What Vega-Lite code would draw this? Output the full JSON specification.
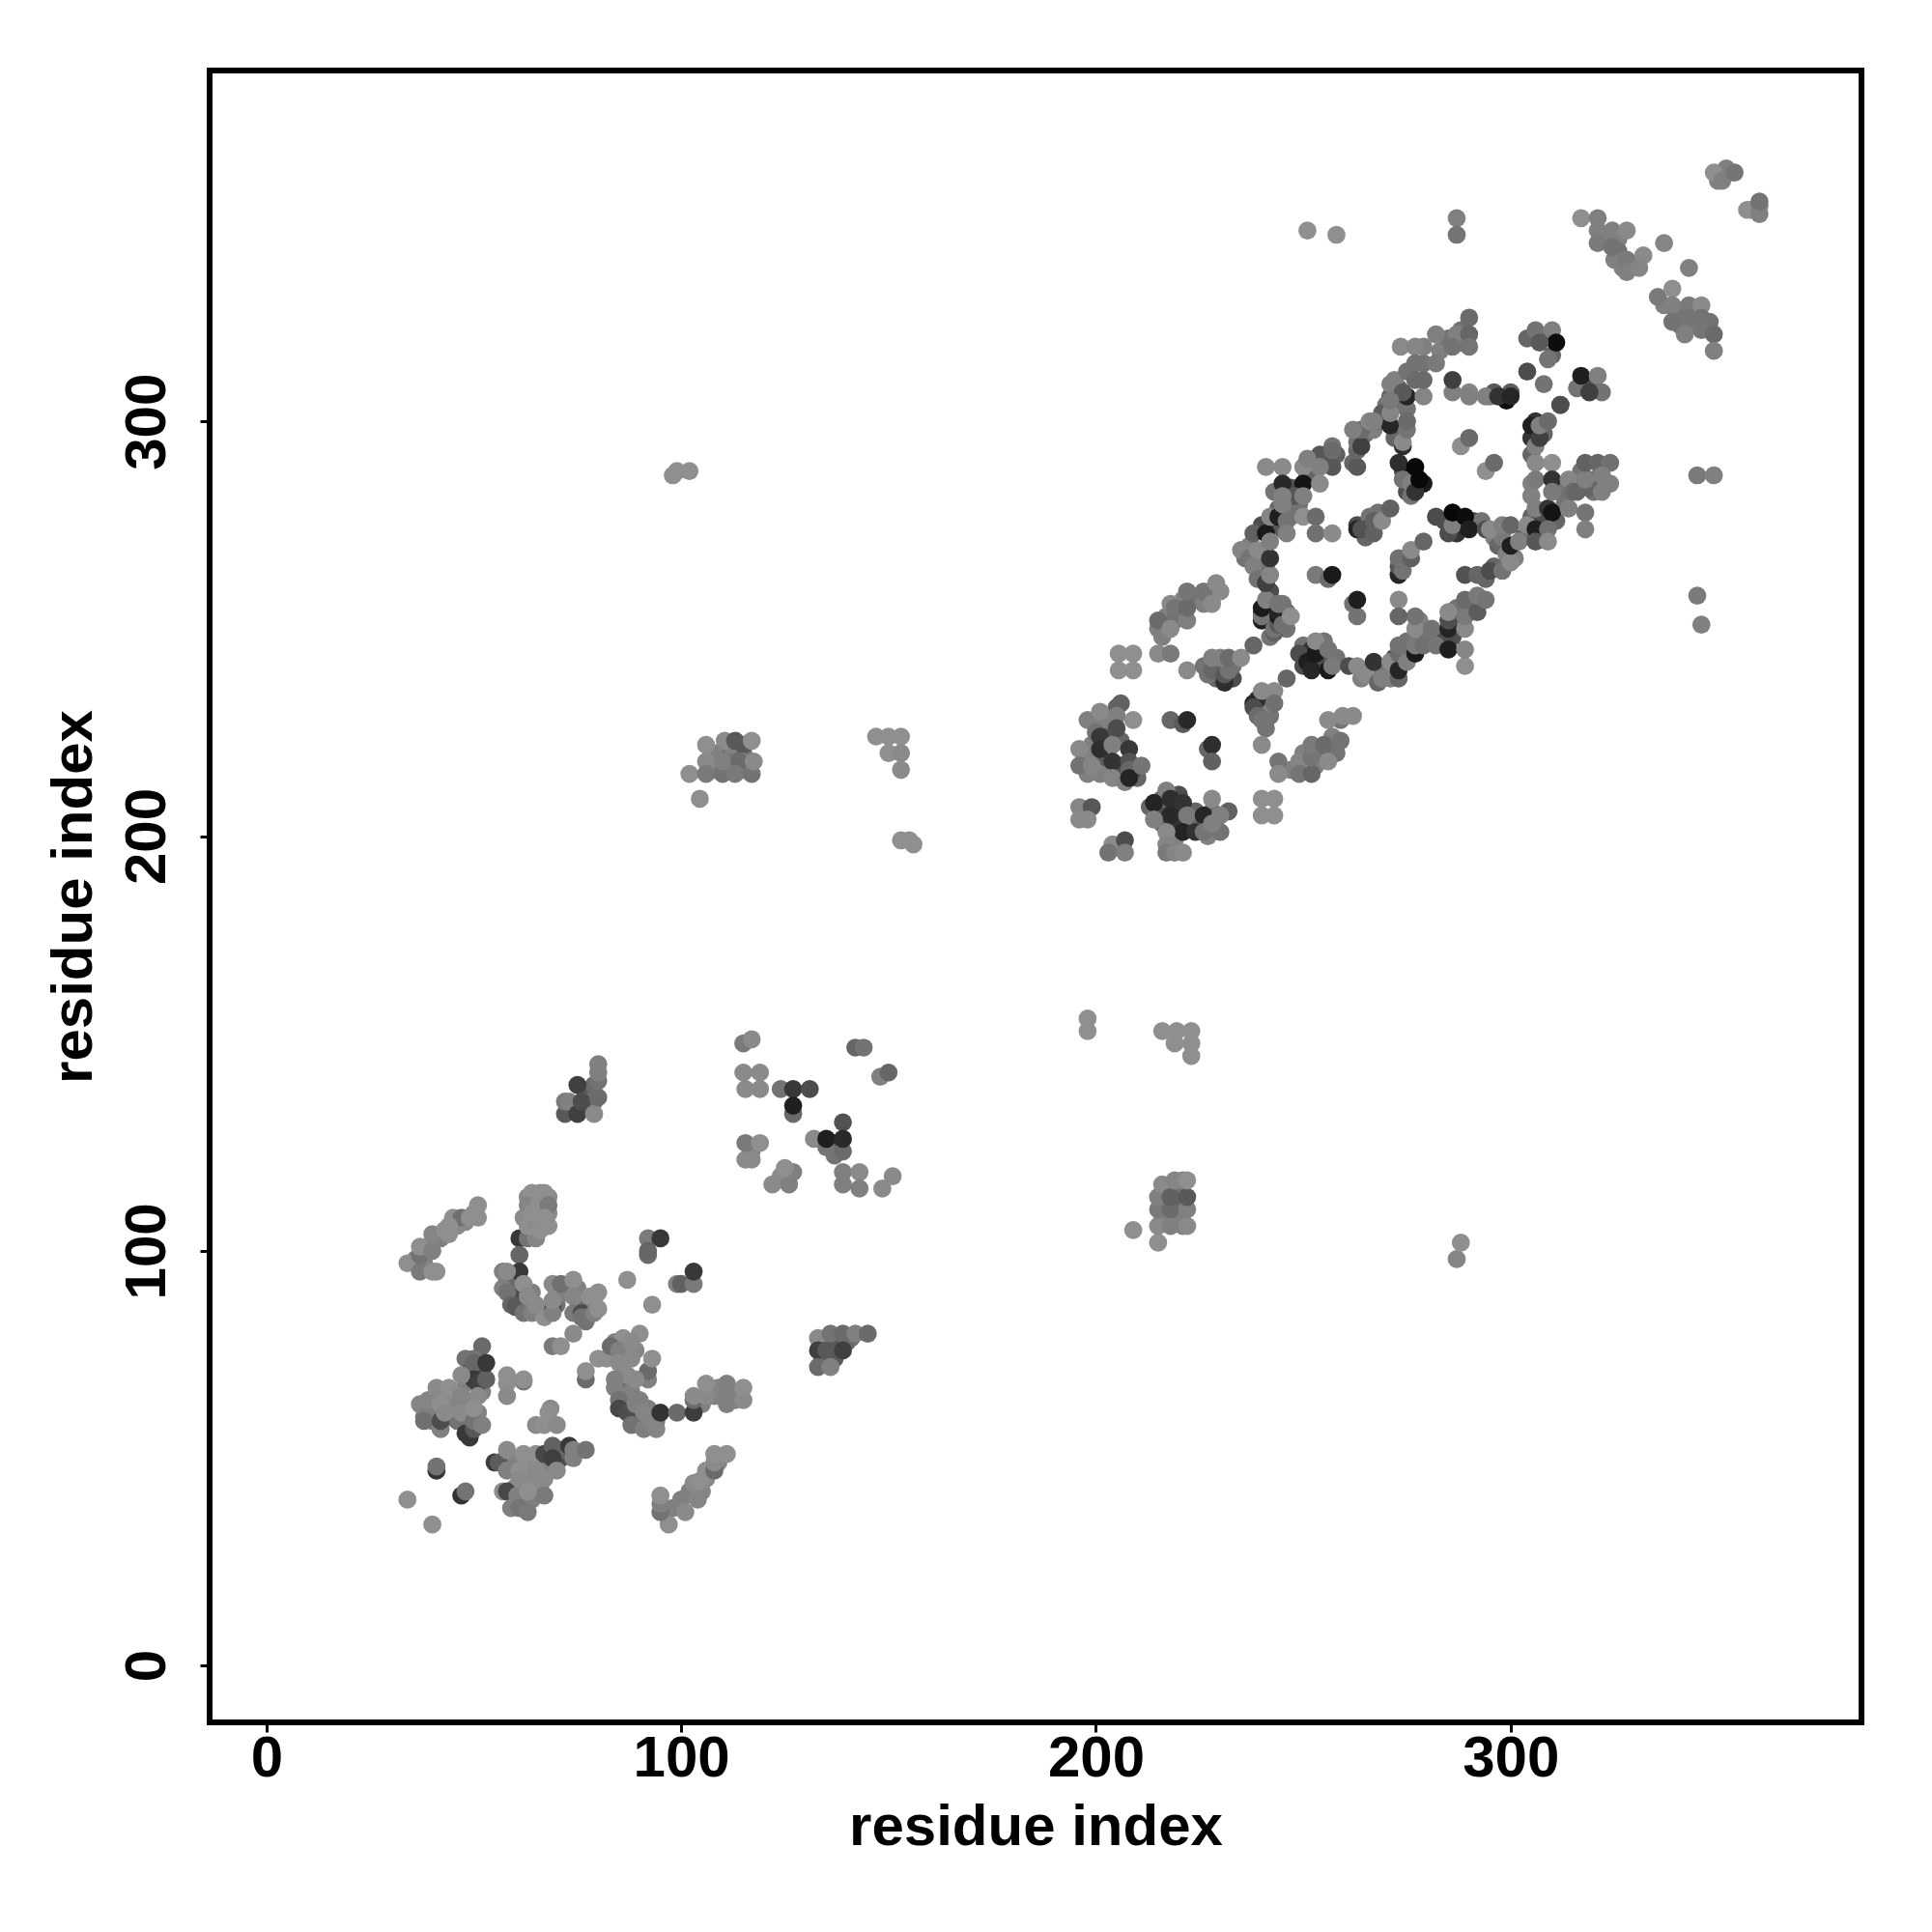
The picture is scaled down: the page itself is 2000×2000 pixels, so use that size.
{"$schema":"https://vega.github.io/schema/vega-lite/v6.json","width":1710,"height":1710,"autosize":{"type":"none"},"padding":{"left":217,"top":73,"right":73,"bottom":217},"background":"white","config":{"font":"Liberation Sans","view":{"stroke":"black","strokeWidth":6}},
"data":{"values":[
{"x":108,"y":220,"g":0.5},{"x":112,"y":220,"g":0.45},{"x":115,"y":220,"g":0.45},{"x":108,"y":216,"g":0.5},{"x":112,"y":216,"g":0.45},{"x":115,"y":216,"g":0.5},{"x":112,"y":222,"g":0.5},{"x":115,"y":222,"g":0.35},{"x":115,"y":218,"g":0.5},
{"x":216,"y":108,"g":0.5},{"x":216,"y":112,"g":0.45},{"x":220,"y":108,"g":0.5},{"x":220,"y":112,"g":0.4},{"x":220,"y":115,"g":0.45},{"x":217,"y":115,"g":0.5},{"x":221,"y":106,"g":0.5},{"x":221,"y":117,"g":0.5},
{"x":74,"y":134,"g":0.4},{"x":77,"y":135,"g":0.4},{"x":77,"y":138,"g":0.35},{"x":78,"y":136,"g":0.45},{"x":79,"y":140,"g":0.42},{"x":79,"y":136,"g":0.42},
{"x":134,"y":78,"g":0.45},{"x":137,"y":78,"g":0.35},{"x":140,"y":78,"g":0.42},{"x":141,"y":79,"g":0.42},{"x":137,"y":74,"g":0.35},{"x":134,"y":74,"g":0.4},
{"x":36,"y":98,"g":0.5},{"x":38,"y":97,"g":0.5},{"x":39,"y":101,"g":0.5},{"x":42,"y":103,"g":0.5},{"x":46,"y":106,"g":0.54},{"x":48,"y":107,"g":0.54},{"x":50,"y":109,"g":0.54},
{"x":62,"y":108,"g":0.54},{"x":66,"y":112,"g":0.56},{"x":64,"y":104,"g":0.54},{"x":68,"y":109,"g":0.54},{"x":66,"y":109,"g":0.56},{"x":63,"y":113,"g":0.54},{"x":68,"y":113,"g":0.54},
{"x":58,"y":93,"g":0.45},{"x":59,"y":92,"g":0.4},{"x":60,"y":91,"g":0.42},{"x":60,"y":88,"g":0.35},{"x":61,"y":87,"g":0.35},{"x":63,"y":87,"g":0.35},{"x":64,"y":90,"g":0.5},{"x":66,"y":86,"g":0.45},{"x":68,"y":86,"g":0.5},{"x":70,"y":90,"g":0.5},{"x":70,"y":87,"g":0.45},{"x":72,"y":90,"g":0.5},{"x":75,"y":91,"g":0.5},{"x":76,"y":88,"g":0.5},{"x":78,"y":87,"g":0.54},{"x":79,"y":88,"g":0.54},{"x":77,"y":86,"g":0.45},
{"x":84,"y":78,"g":0.5},{"x":86,"y":76,"g":0.5},{"x":87,"y":74,"g":0.5},{"x":89,"y":76,"g":0.52},{"x":84,"y":75,"g":0.45},{"x":86,"y":71,"g":0.5},{"x":85,"y":68,"g":0.45},{"x":86,"y":66,"g":0.42},{"x":87,"y":65,"g":0.4},{"x":88,"y":62,"g":0.35},{"x":90,"y":60,"g":0.4},{"x":92,"y":59,"g":0.42},{"x":92,"y":62,"g":0.5},{"x":88,"y":66,"g":0.5},{"x":90,"y":64,"g":0.5},{"x":94,"y":59,"g":0.48},{"x":105,"y":63,"g":0.5},{"x":108,"y":65,"g":0.5},{"x":109,"y":67,"g":0.52},{"x":113,"y":66,"g":0.52},{"x":113,"y":64,"g":0.5},
{"x":48,"y":74,"g":0.45},{"x":49,"y":71,"g":0.35},{"x":48,"y":68,"g":0.5},{"x":52,"y":71,"g":0.3},{"x":52,"y":66,"g":0.5},{"x":48,"y":63,"g":0.5},{"x":46,"y":63,"g":0.52},{"x":40,"y":62,"g":0.5},{"x":40,"y":59,"g":0.5},{"x":39,"y":64,"g":0.52},{"x":44,"y":60,"g":0.5},{"x":44,"y":63,"g":0.52},{"x":49,"y":60,"g":0.5},{"x":51,"y":61,"g":0.5},{"x":49,"y":57,"g":0.3},{"x":46,"y":59,"g":0.45},{"x":43,"y":65,"g":0.54},
{"x":60,"y":49,"g":0.5},{"x":62,"y":49,"g":0.54},{"x":64,"y":49,"g":0.54},{"x":66,"y":49,"g":0.5},{"x":59,"y":50,"g":0.5},{"x":68,"y":48,"g":0.5},{"x":71,"y":50,"g":0.3},{"x":72,"y":52,"g":0.3},{"x":63,"y":46,"g":0.54},{"x":64,"y":40,"g":0.5},{"x":62,"y":40,"g":0.5},{"x":65,"y":44,"g":0.54},{"x":66,"y":43,"g":0.54},{"x":60,"y":43,"g":0.54},{"x":71,"y":52,"g":0.4},
{"x":98,"y":38,"g":0.5},{"x":102,"y":42,"g":0.5},{"x":105,"y":42,"g":0.52},{"x":106,"y":45,"g":0.54},{"x":109,"y":49,"g":0.52},
{"x":117,"y":124,"g":0.5},{"x":117,"y":122,"g":0.54},{"x":126,"y":118,"g":0.5},{"x":124,"y":118,"g":0.54},{"x":137,"y":126,"g":0.3},{"x":137,"y":123,"g":0.45},
{"x":217,"y":253,"g":0.5},{"x":220,"y":253,"g":0.5},{"x":216,"y":248,"g":0.5},{"x":219,"y":252,"g":0.45},{"x":221,"y":257,"g":0.5},{"x":224,"y":257,"g":0.45},{"x":226,"y":256,"g":0.5},{"x":228,"y":259,"g":0.5},{"x":230,"y":259,"g":0.54},
{"x":229,"y":241,"g":0.4},{"x":230,"y":238,"g":0.3},{"x":233,"y":238,"g":0.3},{"x":229,"y":238,"g":0.4},{"x":233,"y":241,"g":0.45},{"x":227,"y":239,"g":0.45},
{"x":240,"y":232,"g":0.3},{"x":241,"y":230,"g":0.4},{"x":241,"y":226,"g":0.45},{"x":242,"y":229,"g":0.45},{"x":242,"y":232,"g":0.5},{"x":239,"y":233,"g":0.2},
{"x":245,"y":216,"g":0.45},{"x":247,"y":216,"g":0.5},{"x":250,"y":220,"g":0.5},{"x":253,"y":217,"g":0.5},{"x":254,"y":220,"g":0.45},{"x":257,"y":224,"g":0.5},{"x":258,"y":220,"g":0.45},
{"x":198,"y":228,"g":0.5},{"x":202,"y":227,"g":0.5},{"x":203,"y":224,"g":0.35},{"x":199,"y":222,"g":0.5},{"x":202,"y":218,"g":0.35},{"x":198,"y":215,"g":0.5},{"x":206,"y":217,"g":0.3},{"x":206,"y":214,"g":0.3},{"x":206,"y":223,"g":0.4},{"x":203,"y":228,"g":0.5},{"x":205,"y":231,"g":0.4},{"x":198,"y":219,"g":0.5},{"x":210,"y":214,"g":0.4},{"x":209,"y":216,"g":0.3},{"x":201,"y":215,"g":0.5},
{"x":215,"y":206,"g":0.3},{"x":216,"y":203,"g":0.4},{"x":219,"y":203,"g":0.2},{"x":220,"y":206,"g":0.2},{"x":223,"y":203,"g":0.4},{"x":216,"y":208,"g":0.3},{"x":219,"y":207,"g":0.2},{"x":224,"y":206,"g":0.4},{"x":228,"y":206,"g":0.45},{"x":227,"y":200,"g":0.5},{"x":219,"y":199,"g":0.5},{"x":216,"y":209,"g":0.4},{"x":220,"y":210,"g":0.3},
{"x":240,"y":254,"g":0.25},{"x":242,"y":259,"g":0.3},{"x":242,"y":255,"g":0.25},{"x":246,"y":254,"g":0.4},{"x":246,"y":250,"g":0.45},{"x":242,"y":248,"g":0.45},
{"x":250,"y":241,"g":0.3},{"x":254,"y":243,"g":0.2},{"x":255,"y":243,"g":0.3},{"x":250,"y":246,"g":0.45},{"x":255,"y":247,"g":0.45},{"x":258,"y":243,"g":0.45},{"x":252,"y":245,"g":0.2},
{"x":264,"y":240,"g":0.45},{"x":266,"y":240,"g":0.45},{"x":268,"y":240,"g":0.45},{"x":270,"y":240,"g":0.45},{"x":272,"y":243,"g":0.25},{"x":275,"y":247,"g":0.45},{"x":278,"y":252,"g":0.5},{"x":280,"y":248,"g":0.45},{"x":283,"y":247,"g":0.3},{"x":284,"y":249,"g":0.3},{"x":286,"y":248,"g":0.3},{"x":287,"y":251,"g":0.4},{"x":288,"y":255,"g":0.45},{"x":287,"y":255,"g":0.45},{"x":290,"y":255,"g":0.4},{"x":264,"y":238,"g":0.5},{"x":271,"y":238,"g":0.5},
{"x":236,"y":267,"g":0.45},{"x":237,"y":270,"g":0.5},{"x":240,"y":264,"g":0.4},{"x":241,"y":265,"g":0.4},{"x":240,"y":267,"g":0.45},{"x":238,"y":268,"g":0.5},
{"x":243,"y":275,"g":0.3},{"x":245,"y":274,"g":0.35},{"x":240,"y":275,"g":0.3},{"x":244,"y":279,"g":0.4},{"x":248,"y":279,"g":0.45},{"x":247,"y":277,"g":0.45},{"x":249,"y":284,"g":0.25},{"x":247,"y":284,"g":0.35},{"x":252,"y":287,"g":0.4},{"x":255,"y":291,"g":0.35},{"x":251,"y":287,"g":0.4},{"x":249,"y":280,"g":0.45},{"x":246,"y":284,"g":0.3},{"x":243,"y":283,"g":0.45},
{"x":262,"y":290,"g":0.4},{"x":265,"y":297,"g":0.45},{"x":267,"y":298,"g":0.5},{"x":268,"y":300,"g":0.45},{"x":270,"y":304,"g":0.45},{"x":272,"y":304,"g":0.4},{"x":273,"y":308,"g":0.4},{"x":272,"y":310,"g":0.5},{"x":275,"y":312,"g":0.45},{"x":279,"y":314,"g":0.45},{"x":279,"y":318,"g":0.5},{"x":283,"y":317,"g":0.5},{"x":285,"y":320,"g":0.45},{"x":288,"y":319,"g":0.45},{"x":288,"y":322,"g":0.45},{"x":275,"y":303,"g":0.45},{"x":272,"y":296,"g":0.4},
{"x":274,"y":288,"g":0.3},{"x":276,"y":287,"g":0.1},{"x":279,"y":285,"g":0.1},{"x":275,"y":283,"g":0.3},{"x":277,"y":287,"g":0.4},
{"x":284,"y":276,"g":0.3},{"x":287,"y":273,"g":0.2},{"x":288,"y":275,"g":0.15},{"x":291,"y":276,"g":0.3},{"x":293,"y":276,"g":0.45},{"x":296,"y":272,"g":0.5},{"x":297,"y":270,"g":0.4},{"x":299,"y":268,"g":0.5},{"x":301,"y":267,"g":0.5},{"x":303,"y":272,"g":0.4},{"x":296,"y":265,"g":0.4},{"x":294,"y":262,"g":0.4},
{"x":305,"y":292,"g":0.4},{"x":305,"y":296,"g":0.2},{"x":308,"y":297,"g":0.4},{"x":306,"y":300,"g":0.2},{"x":305,"y":285,"g":0.5},{"x":305,"y":282,"g":0.5},{"x":308,"y":276,"g":0.3},{"x":305,"y":277,"g":0.4},{"x":307,"y":277,"g":0.3},{"x":311,"y":276,"g":0.4},{"x":312,"y":283,"g":0.45},{"x":313,"y":280,"g":0.45},{"x":316,"y":285,"g":0.4},{"x":317,"y":288,"g":0.45},{"x":320,"y":286,"g":0.45},{"x":320,"y":283,"g":0.45},{"x":324,"y":285,"g":0.5},
{"x":304,"y":320,"g":0.4},{"x":308,"y":320,"g":0.3},{"x":310,"y":316,"g":0.4},{"x":319,"y":309,"g":0.3},{"x":316,"y":308,"g":0.45},
{"x":263,"y":275,"g":0.3},{"x":266,"y":277,"g":0.45},{"x":268,"y":278,"g":0.45},{"x":265,"y":272,"g":0.4},
{"x":322,"y":345,"g":0.5},{"x":326,"y":344,"g":0.5},{"x":326,"y":341,"g":0.45},{"x":329,"y":338,"g":0.5},{"x":325,"y":339,"g":0.5},{"x":327,"y":337,"g":0.5},{"x":340,"y":326,"g":0.45},{"x":341,"y":323,"g":0.48},{"x":344,"y":326,"g":0.45},{"x":345,"y":323,"g":0.48},{"x":348,"y":324,"g":0.45},{"x":337,"y":328,"g":0.5},{"x":350,"y":358,"g":0.5},{"x":352,"y":361,"g":0.5},{"x":358,"y":351,"g":0.5},
{"x":34,"y":40,"g":0.56},{"x":40,"y":34,"g":0.56},{"x":41,"y":47,"g":0.2},{"x":41,"y":48,"g":0.45},{"x":47,"y":41,"g":0.2},{"x":48,"y":42,"g":0.45},
{"x":34,"y":97,"g":0.56},{"x":37,"y":95,"g":0.48},{"x":40,"y":95,"g":0.56},{"x":41,"y":95,"g":0.56},{"x":37,"y":99,"g":0.45},{"x":37,"y":101,"g":0.56},{"x":40,"y":100,"g":0.5},{"x":40,"y":104,"g":0.52},{"x":44,"y":104,"g":0.56},{"x":45,"y":108,"g":0.56},{"x":47,"y":108,"g":0.44},{"x":49,"y":108,"g":0.56},{"x":51,"y":108,"g":0.56},{"x":51,"y":111,"g":0.56},{"x":43,"y":105,"g":0.56},{"x":44,"y":106,"g":0.56},
{"x":61,"y":103,"g":0.22},{"x":61,"y":99,"g":0.4},{"x":61,"y":95,"g":0.22},{"x":63,"y":103,"g":0.45},{"x":65,"y":103,"g":0.52},{"x":64,"y":114,"g":0.56},{"x":66,"y":114,"g":0.56},{"x":67,"y":114,"g":0.56},{"x":63,"y":111,"g":0.52},{"x":65.5,"y":111,"g":0.56},{"x":68,"y":111,"g":0.48},{"x":63,"y":106,"g":0.56},{"x":68,"y":106,"g":0.56},{"x":65,"y":107,"g":0.54},{"x":66,"y":105,"g":0.56},{"x":64,"y":109,"g":0.56},{"x":67,"y":108,"g":0.56},
{"x":57,"y":95,"g":0.5},{"x":58,"y":95,"g":0.54},{"x":57,"y":91,"g":0.5},{"x":61,"y":89,"g":0.3},{"x":58,"y":90,"g":0.45},{"x":59,"y":87,"g":0.4},{"x":60,"y":86.5,"g":0.35},{"x":62,"y":85,"g":0.45},{"x":64,"y":85,"g":0.5},{"x":67,"y":84,"g":0.56},{"x":69,"y":86,"g":0.25},{"x":69,"y":85,"g":0.5},{"x":62,"y":92,"g":0.56},{"x":63,"y":89,"g":0.54},{"x":65,"y":87,"g":0.54},{"x":69,"y":92,"g":0.54},{"x":69,"y":88,"g":0.54},{"x":71,"y":92,"g":0.44},{"x":74,"y":93,"g":0.56},{"x":74,"y":89,"g":0.52},{"x":74,"y":85,"g":0.48},{"x":76,"y":85,"g":0.3},{"x":76,"y":84,"g":0.45},{"x":77,"y":83,"g":0.45},{"x":79,"y":85,"g":0.5},{"x":80,"y":90,"g":0.56},{"x":78,"y":89,"g":0.56},{"x":80,"y":86,"g":0.56},{"x":74,"y":80,"g":0.54},{"x":69,"y":77,"g":0.48},{"x":71,"y":77,"g":0.56},
{"x":87,"y":93,"g":0.56},{"x":93,"y":87,"g":0.56},{"x":92,"y":103,"g":0.48},{"x":95,"y":103,"g":0.22},{"x":92,"y":99,"g":0.42},{"x":92,"y":100,"g":0.4},{"x":99,"y":92,"g":0.5},{"x":100,"y":92,"g":0.38},{"x":103,"y":92,"g":0.48},{"x":103,"y":95,"g":0.22},
{"x":80,"y":74,"g":0.56},{"x":82,"y":74,"g":0.56},{"x":77,"y":69,"g":0.42},{"x":77,"y":71,"g":0.56},{"x":86,"y":79,"g":0.56},{"x":90,"y":80,"g":0.56},{"x":83,"y":77,"g":0.42},{"x":85,"y":76,"g":0.5},{"x":88,"y":78,"g":0.54},{"x":88,"y":74,"g":0.54},{"x":92,"y":69,"g":0.5},{"x":92,"y":71,"g":0.42},{"x":93,"y":74,"g":0.56},{"x":89,"y":69,"g":0.54},{"x":87,"y":70,"g":0.54},{"x":85,"y":73,"g":0.54},{"x":84,"y":69,"g":0.5},{"x":84,"y":67,"g":0.5},{"x":85,"y":64,"g":0.45},{"x":85,"y":62,"g":0.28},{"x":87,"y":61,"g":0.3},{"x":89,"y":63,"g":0.5},{"x":90,"y":58,"g":0.28},{"x":91,"y":61,"g":0.52},{"x":88,"y":58,"g":0.45},{"x":91,"y":57,"g":0.5},{"x":93,"y":59,"g":0.52},{"x":94,"y":57,"g":0.52},{"x":95,"y":61,"g":0.2},{"x":99,"y":61,"g":0.42},{"x":103,"y":61,"g":0.24},{"x":103,"y":64,"g":0.42},{"x":103,"y":65,"g":0.54},{"x":106,"y":65,"g":0.54},{"x":106,"y":68,"g":0.56},{"x":111,"y":63,"g":0.5},{"x":111,"y":65,"g":0.5},{"x":111,"y":68,"g":0.5},{"x":115,"y":64,"g":0.54},{"x":115,"y":67,"g":0.56},
{"x":52,"y":77,"g":0.42},{"x":50,"y":74,"g":0.45},{"x":50,"y":73,"g":0.4},{"x":50,"y":69,"g":0.22},{"x":51,"y":68,"g":0.25},{"x":53,"y":69,"g":0.38},{"x":53,"y":73,"g":0.22},{"x":47,"y":70,"g":0.54},{"x":41,"y":67,"g":0.54},{"x":44,"y":67,"g":0.56},{"x":37,"y":63,"g":0.52},{"x":38,"y":60,"g":0.5},{"x":38,"y":59,"g":0.44},{"x":42,"y":57,"g":0.5},{"x":42,"y":59,"g":0.3},{"x":42,"y":63,"g":0.56},{"x":43,"y":61,"g":0.54},{"x":47,"y":65,"g":0.52},{"x":47,"y":61,"g":0.54},{"x":51,"y":65,"g":0.54},{"x":48,"y":56,"g":0.22},{"x":49,"y":55,"g":0.22},{"x":50,"y":57,"g":0.34},{"x":50,"y":59,"g":0.45},{"x":50,"y":62,"g":0.56},{"x":52,"y":58,"g":0.5},
{"x":58,"y":70,"g":0.56},{"x":58,"y":68,"g":0.56},{"x":58,"y":65,"g":0.54},{"x":62,"y":68.5,"g":0.46},{"x":62,"y":69,"g":0.56},{"x":68.5,"y":62,"g":0.54},{"x":68,"y":61,"g":0.56},{"x":65,"y":58,"g":0.54},{"x":67,"y":58,"g":0.56},{"x":70,"y":58,"g":0.54},
{"x":55,"y":49,"g":0.24},{"x":56,"y":49,"g":0.36},{"x":58,"y":52,"g":0.54},{"x":58,"y":47,"g":0.5},{"x":62,"y":51,"g":0.56},{"x":61,"y":47,"g":0.56},{"x":65,"y":51,"g":0.56},{"x":65,"y":47,"g":0.54},{"x":67,"y":51,"g":0.28},{"x":69,"y":53,"g":0.38},{"x":69,"y":50,"g":0.25},{"x":70,"y":47,"g":0.54},{"x":73,"y":53,"g":0.22},{"x":74,"y":52,"g":0.5},{"x":74,"y":50,"g":0.5},{"x":77,"y":52,"g":0.45},{"x":67,"y":45,"g":0.54},{"x":67,"y":41,"g":0.48},{"x":57,"y":42,"g":0.56},{"x":58,"y":42,"g":0.28},{"x":59,"y":38,"g":0.5},{"x":60.5,"y":41,"g":0.5},{"x":61,"y":45,"g":0.54},{"x":61,"y":38,"g":0.46},{"x":63,"y":37,"g":0.48},{"x":63,"y":42,"g":0.56},
{"x":97,"y":34,"g":0.56},{"x":95,"y":37,"g":0.45},{"x":95,"y":39,"g":0.5},{"x":95,"y":41,"g":0.56},{"x":100,"y":40,"g":0.5},{"x":101,"y":37,"g":0.54},{"x":104,"y":40,"g":0.52},{"x":103,"y":44,"g":0.54},{"x":104.5,"y":44.5,"g":0.56},{"x":106,"y":47,"g":0.56},{"x":108,"y":47,"g":0.42},{"x":108,"y":49,"g":0.54},{"x":108,"y":51,"g":0.56},{"x":111,"y":51,"g":0.56},
{"x":72,"y":133,"g":0.35},{"x":72,"y":136,"g":0.48},{"x":73,"y":136,"g":0.5},{"x":75,"y":133,"g":0.25},{"x":75,"y":140,"g":0.25},{"x":76,"y":136,"g":0.3},{"x":79,"y":133,"g":0.54},{"x":80,"y":137,"g":0.42},{"x":80,"y":141,"g":0.45},{"x":80,"y":143,"g":0.5},{"x":80,"y":145,"g":0.5},
{"x":115,"y":150,"g":0.48},{"x":117,"y":151,"g":0.54},{"x":115,"y":143,"g":0.54},{"x":119,"y":143,"g":0.54},{"x":115.5,"y":139,"g":0.54},{"x":119,"y":139,"g":0.54},{"x":124,"y":139,"g":0.45},{"x":127,"y":139,"g":0.22},{"x":131,"y":139,"g":0.3},{"x":127,"y":133,"g":0.42},{"x":127,"y":135,"g":0.12},{"x":115.5,"y":122,"g":0.54},{"x":115.5,"y":126,"g":0.48},{"x":119,"y":126,"g":0.56},{"x":122,"y":116,"g":0.54},{"x":126,"y":116,"g":0.5},{"x":127,"y":119,"g":0.5},{"x":125,"y":120,"g":0.56},{"x":132,"y":127,"g":0.54},{"x":135,"y":125,"g":0.46},{"x":135,"y":127,"g":0.12},{"x":139,"y":131,"g":0.32},{"x":139,"y":124,"g":0.42},{"x":139,"y":127,"g":0.16},{"x":139,"y":119,"g":0.5},{"x":139,"y":116,"g":0.5},{"x":143,"y":119,"g":0.54},{"x":143,"y":115,"g":0.5},{"x":148.5,"y":115,"g":0.54},{"x":151,"y":118,"g":0.54},{"x":142,"y":149,"g":0.4},{"x":144,"y":149,"g":0.45},{"x":148,"y":142,"g":0.5},{"x":150,"y":143,"g":0.4},
{"x":133,"y":79,"g":0.54},{"x":133,"y":76,"g":0.25},{"x":135,"y":76,"g":0.35},{"x":133,"y":72,"g":0.42},{"x":136,"y":72,"g":0.5},{"x":136,"y":80,"g":0.45},{"x":139,"y":80,"g":0.42},{"x":139,"y":76,"g":0.25},{"x":142,"y":80,"g":0.5},{"x":145,"y":80,"g":0.42},
{"x":98,"y":287,"g":0.56},{"x":99,"y":288,"g":0.56},{"x":102,"y":288,"g":0.56},
{"x":102,"y":215,"g":0.56},{"x":104.5,"y":209,"g":0.56},{"x":106,"y":222,"g":0.56},{"x":106,"y":218,"g":0.54},{"x":106,"y":215,"g":0.48},{"x":110,"y":215,"g":0.45},{"x":110,"y":218,"g":0.5},{"x":110.5,"y":223,"g":0.54},{"x":113,"y":223,"g":0.35},{"x":114,"y":218,"g":0.42},{"x":113,"y":215,"g":0.48},{"x":117,"y":215,"g":0.45},{"x":117,"y":223,"g":0.56},{"x":117.5,"y":218,"g":0.54},
{"x":147,"y":224,"g":0.56},{"x":150,"y":224,"g":0.56},{"x":153,"y":224,"g":0.56},{"x":150,"y":220,"g":0.56},{"x":153,"y":220,"g":0.54},{"x":153,"y":216,"g":0.54},{"x":153,"y":199,"g":0.56},{"x":155,"y":199,"g":0.56},{"x":156,"y":198,"g":0.56},
{"x":198,"y":156,"g":0.56},{"x":198,"y":153,"g":0.56},{"x":216,"y":153,"g":0.56},{"x":219.5,"y":153,"g":0.56},{"x":223,"y":153,"g":0.56},{"x":219,"y":150,"g":0.56},{"x":223,"y":150,"g":0.56},{"x":223,"y":147,"g":0.56},
{"x":209,"y":105,"g":0.56},{"x":215,"y":102,"g":0.56},{"x":215,"y":106,"g":0.54},{"x":215,"y":110,"g":0.48},{"x":215,"y":113,"g":0.5},{"x":216,"y":116,"g":0.54},{"x":218,"y":106,"g":0.5},{"x":218,"y":110,"g":0.42},{"x":218,"y":113,"g":0.38},{"x":219,"y":117,"g":0.52},{"x":222,"y":106,"g":0.54},{"x":222,"y":110,"g":0.5},{"x":222,"y":113,"g":0.35},{"x":222,"y":117,"g":0.56},
{"x":287,"y":98,"g":0.52},{"x":288,"y":102,"g":0.56},{"x":251,"y":346,"g":0.56},{"x":258,"y":345,"g":0.56},{"x":287,"y":349,"g":0.5},{"x":287,"y":345,"g":0.46},
{"x":317,"y":349,"g":0.56},{"x":321,"y":349,"g":0.5},{"x":321,"y":346,"g":0.5},{"x":321,"y":343,"g":0.48},{"x":324.5,"y":346,"g":0.5},{"x":328,"y":346,"g":0.54},{"x":324.5,"y":342,"g":0.45},{"x":328,"y":339,"g":0.48},{"x":328,"y":336,"g":0.5},{"x":332,"y":340,"g":0.54},{"x":331,"y":337,"g":0.52},{"x":337,"y":343,"g":0.52},{"x":343,"y":337,"g":0.5},
{"x":335.5,"y":330,"g":0.48},{"x":339,"y":332,"g":0.56},{"x":339,"y":328,"g":0.5},{"x":339,"y":324,"g":0.45},{"x":343,"y":328,"g":0.48},{"x":343,"y":325,"g":0.46},{"x":346,"y":328,"g":0.54},{"x":346,"y":325,"g":0.45},{"x":346,"y":322,"g":0.46},{"x":349,"y":321,"g":0.42},{"x":349,"y":317,"g":0.5},{"x":342,"y":321,"g":0.5},
{"x":345,"y":287,"g":0.48},{"x":349,"y":287,"g":0.5},{"x":345,"y":258,"g":0.48},{"x":346,"y":251,"g":0.5},
{"x":349,"y":360,"g":0.56},{"x":351,"y":358,"g":0.5},{"x":353,"y":360,"g":0.5},{"x":354,"y":360,"g":0.46},{"x":357,"y":351,"g":0.56},{"x":360,"y":350,"g":0.5},{"x":360,"y":352,"g":0.5},{"x":360,"y":353,"g":0.45},
{"x":205.5,"y":244,"g":0.56},{"x":209,"y":244,"g":0.56},{"x":205.5,"y":240,"g":0.56},{"x":209,"y":240,"g":0.56},{"x":215,"y":244,"g":0.54},{"x":218,"y":244,"g":0.48},{"x":222,"y":240,"g":0.54},{"x":215,"y":250,"g":0.5},{"x":215,"y":252,"g":0.42},{"x":218,"y":250,"g":0.54},{"x":218,"y":256,"g":0.54},{"x":222,"y":252,"g":0.5},{"x":219,"y":255,"g":0.46},{"x":222,"y":255,"g":0.42},{"x":222,"y":259,"g":0.46},{"x":226,"y":259,"g":0.46},{"x":228,"y":256,"g":0.54},{"x":229,"y":261,"g":0.54},
{"x":226,"y":241,"g":0.45},{"x":228,"y":240,"g":0.4},{"x":231,"y":237,"g":0.18},{"x":231,"y":239,"g":0.35},{"x":232,"y":240,"g":0.45},{"x":228,"y":243,"g":0.5},{"x":230,"y":243,"g":0.5},{"x":232,"y":243,"g":0.42},{"x":235,"y":243,"g":0.54},{"x":238,"y":246,"g":0.4},
{"x":238,"y":232,"g":0.16},{"x":238,"y":231,"g":0.3},{"x":239,"y":229,"g":0.42},{"x":240,"y":228,"g":0.46},{"x":240,"y":235,"g":0.54},{"x":243,"y":235,"g":0.54},{"x":243,"y":232,"g":0.44},{"x":240,"y":222,"g":0.54},{"x":246,"y":238,"g":0.4},
{"x":244,"y":218,"g":0.46},{"x":244,"y":215,"g":0.54},{"x":249,"y":218,"g":0.52},{"x":249,"y":215,"g":0.46},{"x":252,"y":215,"g":0.4},{"x":252,"y":219,"g":0.46},{"x":252,"y":222,"g":0.48},{"x":255,"y":222,"g":0.42},{"x":256,"y":218,"g":0.54},{"x":259,"y":223,"g":0.45},{"x":259,"y":228,"g":0.46},{"x":256,"y":228,"g":0.54},{"x":259.5,"y":229,"g":0.54},{"x":262,"y":229,"g":0.54},
{"x":206,"y":232,"g":0.38},{"x":201,"y":230,"g":0.54},{"x":205,"y":229,"g":0.5},{"x":209,"y":228,"g":0.56},{"x":200,"y":225,"g":0.45},{"x":201,"y":224,"g":0.22},{"x":205,"y":226,"g":0.3},{"x":201,"y":221,"g":0.18},{"x":196,"y":221,"g":0.54},{"x":196,"y":217,"g":0.45},{"x":199,"y":217,"g":0.52},{"x":204,"y":222,"g":0.5},{"x":204,"y":218,"g":0.2},{"x":208,"y":221,"g":0.22},{"x":208,"y":218,"g":0.32},{"x":208,"y":216,"g":0.4},{"x":204,"y":214,"g":0.52},{"x":207,"y":213,"g":0.5},{"x":208,"y":214,"g":0.14},{"x":211,"y":217,"g":0.46},
{"x":218,"y":228,"g":0.4},{"x":221,"y":227,"g":0.35},{"x":222,"y":228,"g":0.16},{"x":227,"y":221,"g":0.4},{"x":228,"y":222,"g":0.18},{"x":228,"y":218,"g":0.38},
{"x":196,"y":207,"g":0.52},{"x":199,"y":207,"g":0.34},{"x":196,"y":204,"g":0.54},{"x":198,"y":204,"g":0.54},{"x":204,"y":198,"g":0.54},{"x":207,"y":199,"g":0.3},{"x":203,"y":196,"g":0.45},{"x":207,"y":196,"g":0.5},
{"x":217,"y":211,"g":0.5},{"x":213,"y":207,"g":0.4},{"x":214,"y":208,"g":0.14},{"x":218,"y":209,"g":0.18},{"x":221,"y":208,"g":0.2},{"x":218,"y":205,"g":0.16},{"x":214,"y":204,"g":0.5},{"x":222,"y":205,"g":0.48},{"x":221,"y":201,"g":0.14},{"x":217,"y":201,"g":0.54},{"x":217,"y":198,"g":0.52},{"x":217,"y":196,"g":0.48},{"x":219,"y":196,"g":0.52},{"x":221,"y":196,"g":0.54},{"x":224,"y":201,"g":0.2},{"x":226,"y":205,"g":0.15},{"x":226,"y":201,"g":0.46},{"x":228,"y":209,"g":0.54},{"x":232,"y":206,"g":0.38},{"x":230,"y":205,"g":0.5},{"x":230,"y":201,"g":0.45},{"x":228,"y":203,"g":0.5},
{"x":240,"y":209,"g":0.56},{"x":243,"y":209,"g":0.56},{"x":240,"y":205,"g":0.56},{"x":243,"y":205,"g":0.56},
{"x":240,"y":252,"g":0.12},{"x":240,"y":253,"g":0.45},{"x":240,"y":255,"g":0.1},{"x":241,"y":257,"g":0.5},{"x":241,"y":261,"g":0.35},{"x":243,"y":249,"g":0.38},{"x":243,"y":250,"g":0.45},{"x":244,"y":251,"g":0.35},{"x":244,"y":253,"g":0.1},{"x":244,"y":254,"g":0.14},{"x":244,"y":256,"g":0.46},{"x":245,"y":256,"g":0.46},{"x":245,"y":251,"g":0.44},{"x":247,"y":253,"g":0.56},
{"x":249,"y":244,"g":0.3},{"x":251,"y":242,"g":0.12},{"x":252,"y":240,"g":0.15},{"x":253,"y":244,"g":0.1},{"x":253,"y":247,"g":0.54},{"x":256,"y":240,"g":0.1},{"x":256,"y":245,"g":0.46},{"x":257,"y":241,"g":0.48},
{"x":261,"y":241,"g":0.3},{"x":263,"y":241,"g":0.54},{"x":265,"y":239,"g":0.54},{"x":267,"y":242,"g":0.2},{"x":268,"y":237,"g":0.4},{"x":269,"y":238,"g":0.5},{"x":271,"y":242,"g":0.54},{"x":273,"y":238,"g":0.4},{"x":273,"y":240,"g":0.15},{"x":273,"y":244,"g":0.42},{"x":275,"y":242,"g":0.5},{"x":273,"y":246,"g":0.45},{"x":277,"y":244,"g":0.1},{"x":277,"y":246,"g":0.48},{"x":277,"y":250,"g":0.54},{"x":277,"y":253,"g":0.45},{"x":279,"y":246,"g":0.44},{"x":281,"y":250,"g":0.45},{"x":282,"y":246,"g":0.46},{"x":285,"y":245,"g":0.12},{"x":285,"y":250,"g":0.14},{"x":285,"y":252,"g":0.3},{"x":285,"y":254,"g":0.54},{"x":289,"y":241,"g":0.56},{"x":289,"y":245,"g":0.52},{"x":289,"y":250,"g":0.54},{"x":289,"y":253,"g":0.48},{"x":289,"y":257,"g":0.42},{"x":292,"y":254,"g":0.36},{"x":292,"y":258,"g":0.48},{"x":294,"y":257,"g":0.46},
{"x":273,"y":257,"g":0.54},{"x":273,"y":253,"g":0.4},{"x":262,"y":256,"g":0.45},{"x":263,"y":253,"g":0.45},{"x":263,"y":257,"g":0.12},{"x":253,"y":263,"g":0.48},{"x":256,"y":262,"g":0.42},{"x":257,"y":263,"g":0.1},
{"x":235,"y":269,"g":0.52},{"x":237,"y":267,"g":0.46},{"x":238,"y":265,"g":0.5},{"x":239,"y":262,"g":0.45},{"x":239,"y":269,"g":0.54},{"x":241,"y":261,"g":0.25},{"x":242,"y":263,"g":0.52},{"x":242,"y":267,"g":0.2},
{"x":273,"y":263,"g":0.15},{"x":273,"y":265,"g":0.35},{"x":273,"y":267,"g":0.44},{"x":274,"y":264,"g":0.45},{"x":276,"y":267,"g":0.38},{"x":276,"y":269,"g":0.54},{"x":279,"y":271,"g":0.4},
{"x":289,"y":263,"g":0.32},{"x":292,"y":263,"g":0.4},{"x":295,"y":264,"g":0.3},{"x":298,"y":264,"g":0.45},{"x":298,"y":272,"g":0.48},{"x":300,"y":266,"g":0.54},{"x":300,"y":270,"g":0.12},{"x":302,"y":271,"g":0.5},
{"x":238,"y":273,"g":0.38},{"x":241,"y":273,"g":0.1},{"x":242,"y":271,"g":0.5},{"x":242,"y":277,"g":0.52},{"x":244,"y":277,"g":0.12},{"x":246,"y":276,"g":0.45},{"x":246,"y":273,"g":0.5},{"x":250,"y":277,"g":0.56},{"x":253,"y":277,"g":0.42},{"x":253,"y":273,"g":0.44},{"x":257,"y":273,"g":0.54},
{"x":263,"y":274,"g":0.14},{"x":264,"y":274,"g":0.32},{"x":267,"y":273,"g":0.38},{"x":267,"y":276,"g":0.38},{"x":269,"y":276,"g":0.54},{"x":271,"y":279,"g":0.38},
{"x":282,"y":277,"g":0.3},{"x":285,"y":273,"g":0.3},{"x":286,"y":275,"g":0.5},{"x":286,"y":278,"g":0.03},{"x":289,"y":277,"g":0.05},{"x":290,"y":274,"g":0.12},{"x":294,"y":274,"g":0.3},{"x":295,"y":274,"g":0.54},{"x":298,"y":275,"g":0.5},{"x":300,"y":275,"g":0.4},{"x":304,"y":275,"g":0.54},
{"x":306,"y":279,"g":0.5},{"x":306,"y":274,"g":0.12},{"x":306,"y":271,"g":0.34},{"x":309,"y":279,"g":0.2},{"x":310,"y":278,"g":0.08},{"x":309,"y":274,"g":0.44},{"x":309,"y":271,"g":0.54},{"x":314,"y":279,"g":0.5},{"x":318,"y":278,"g":0.46},{"x":318,"y":274,"g":0.5},
{"x":306,"y":290,"g":0.54},{"x":306,"y":286,"g":0.48},{"x":310,"y":290,"g":0.56},{"x":310,"y":286,"g":0.2},{"x":310,"y":283,"g":0.48},{"x":314,"y":286,"g":0.52},{"x":315,"y":283,"g":0.42},{"x":316,"y":283,"g":0.4},{"x":319,"y":284,"g":0.4},{"x":318,"y":286,"g":0.5},{"x":318,"y":290,"g":0.38},{"x":321,"y":290,"g":0.4},{"x":324,"y":290,"g":0.44},{"x":322,"y":287,"g":0.5},{"x":322,"y":283,"g":0.5},
{"x":305,"y":299,"g":0.12},{"x":306,"y":294,"g":0.5},{"x":307,"y":296,"g":0.25},{"x":307,"y":299,"g":0.5},{"x":309,"y":300,"g":0.42},{"x":312,"y":304,"g":0.32},{"x":288,"y":294,"g":0.56},{"x":290,"y":296,"g":0.42},{"x":294,"y":288,"g":0.56},{"x":296,"y":290,"g":0.42},
{"x":263,"y":289,"g":0.35},{"x":263,"y":293,"g":0.4},{"x":263,"y":295,"g":0.45},{"x":264,"y":294,"g":0.25},{"x":264,"y":298,"g":0.42},{"x":266,"y":300,"g":0.52},{"x":269,"y":302,"g":0.36},{"x":271,"y":299,"g":0.15},{"x":271,"y":302,"g":0.52},{"x":274,"y":294,"g":0.18},{"x":274,"y":295,"g":0.54},{"x":275,"y":298,"g":0.46},{"x":275,"y":300,"g":0.42},
{"x":273,"y":290,"g":0.18},{"x":274,"y":286,"g":0.45},{"x":276,"y":282,"g":0.45},{"x":276,"y":285,"g":0.5},{"x":277,"y":283,"g":0.2},{"x":277,"y":289,"g":0.03},{"x":278,"y":286,"g":0.03},
{"x":241,"y":289,"g":0.54},{"x":245,"y":289,"g":0.54},{"x":250,"y":289,"g":0.54},{"x":245,"y":285,"g":0.16},{"x":250,"y":285,"g":0.08},{"x":254,"y":292,"g":0.34},{"x":257,"y":294,"g":0.46},{"x":258,"y":292,"g":0.38},{"x":257,"y":289,"g":0.34},{"x":254,"y":289,"g":0.5},{"x":254,"y":285,"g":0.54},{"x":248,"y":282,"g":0.34},{"x":250,"y":282,"g":0.5},{"x":245,"y":282,"g":0.5},{"x":245,"y":280,"g":0.5},
{"x":271,"y":306,"g":0.38},{"x":275,"y":306,"g":0.15},{"x":279,"y":306,"g":0.52},{"x":286,"y":307,"g":0.5},{"x":290,"y":307,"g":0.52},{"x":295,"y":306,"g":0.48},{"x":296,"y":307,"g":0.35},{"x":299,"y":305,"g":0.05},{"x":300,"y":307,"g":0.36},
{"x":273.5,"y":318,"g":0.54},{"x":277,"y":318,"g":0.52},{"x":277,"y":314,"g":0.45},{"x":277,"y":310,"g":0.42},{"x":282,"y":321,"g":0.5},{"x":287,"y":321,"g":0.5},{"x":290,"y":325,"g":0.42},{"x":290,"y":321,"g":0.4},{"x":290,"y":318,"g":0.46},{"x":286,"y":318,"g":0.45},{"x":282,"y":314,"g":0.48},{"x":286,"y":310,"g":0.25},{"x":290,"y":306,"g":0.5},{"x":279,"y":310,"g":0.42},{"x":271,"y":309,"g":0.5},{"x":274,"y":307,"g":0.35},{"x":271,"y":305,"g":0.48},{"x":267,"y":300,"g":0.5},{"x":262,"y":298,"g":0.5},{"x":294,"y":306,"g":0.5},{"x":297,"y":306,"g":0.2},{"x":300,"y":306,"g":0.15},{"x":304,"y":312,"g":0.3},{"x":306,"y":322,"g":0.45},{"x":310,"y":322,"g":0.5},{"x":311,"y":319,"g":0.05},{"x":307,"y":319,"g":0.35},{"x":309,"y":315,"g":0.46},{"x":317,"y":311,"g":0.12},{"x":321,"y":311,"g":0.5},{"x":322,"y":307,"g":0.45},{"x":319,"y":307,"g":0.25},{"x":312,"y":304,"g":0.3},{"x":308,"y":309,"g":0.45},{"x":251,"y":291,"g":0.5},{"x":257,"y":293,"g":0.42}
]},
"mark":{"type":"point","filled":true,"shape":"circle","size":350,"opacity":1,"strokeWidth":0},
"encoding":{
"x":{"field":"x","type":"quantitative","scale":{"domain":[-13.7,384.6],"nice":false,"zero":false},"axis":{"values":[0,100,200,300],"grid":false,"domain":false,"tickColor":"black","tickWidth":3,"tickSize":10,"labelFont":"Liberation Sans","labelFontWeight":"bold","labelFontSize":60,"labelColor":"black","labelPadding":-2,"labelFlush":false,"title":"residue index","titleFont":"Liberation Sans","titleFontWeight":"bold","titleFontSize":60,"titleColor":"black","titlePadding":12}},
"y":{"field":"y","type":"quantitative","scale":{"domain":[-13.7,384.6],"nice":false,"zero":false},"axis":{"values":[0,100,200,300],"grid":false,"domain":false,"tickColor":"black","tickWidth":3,"tickSize":10,"labelFont":"Liberation Sans","labelFontWeight":"bold","labelFontSize":60,"labelColor":"black","labelAngle":-90,"labelAlign":"center","labelBaseline":"bottom","labelPadding":24,"labelFlush":false,"title":"residue index","titleFont":"Liberation Sans","titleFontWeight":"bold","titleFontSize":60,"titleColor":"black","titlePadding":15}},
"color":{"field":"g","type":"quantitative","scale":{"domain":[0,1],"range":["#000000","#ffffff"],"interpolate":"rgb"},"legend":null}
}}
